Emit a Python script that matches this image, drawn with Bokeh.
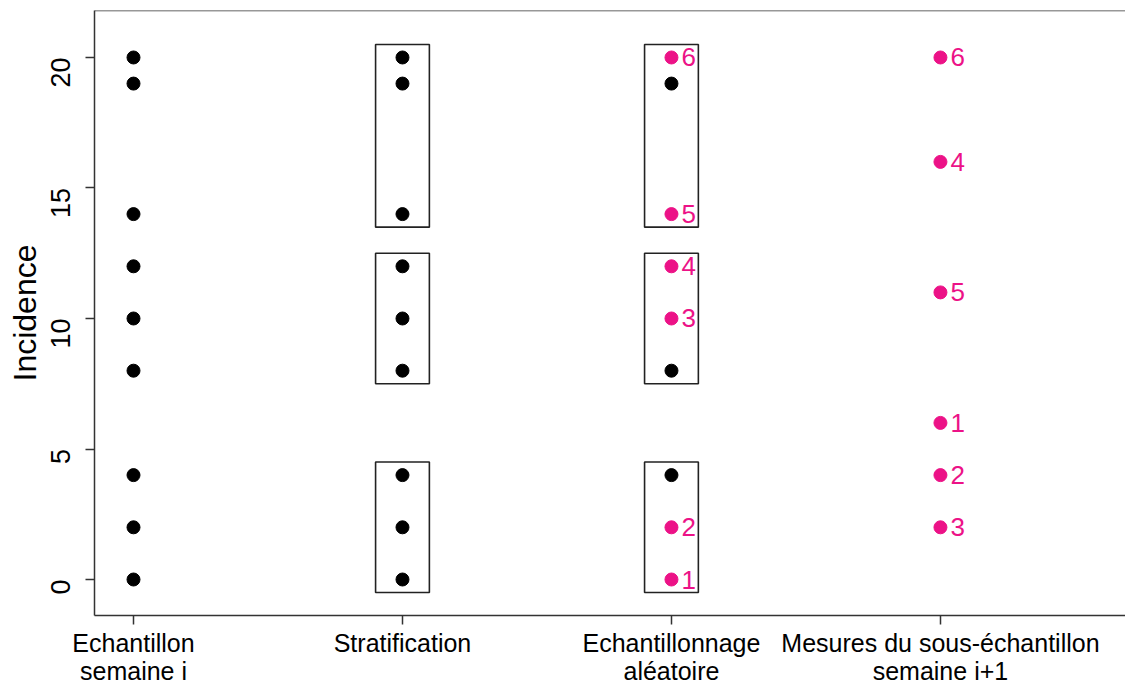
import math
from bokeh.plotting import figure
from bokeh.models import FixedTicker, Span, ColumnDataSource
from bokeh.core.properties import value
from bokeh.embed import file_html
from bokeh.resources import INLINE

# ---- data ----
col_labels = ["Echantillon\nsemaine i", "Stratification", "Echantillonnage\naléatoire",
              "Mesures du sous-échantillon\nsemaine i+1"]
col_pos = [1, 2, 3, 4]

sample_y = [0, 2, 4, 8, 10, 12, 14, 19, 20]          # column 1 and 2
strata_low = [-0.5, 7.5, 13.5]                          # strata boxes
strata_high = [4.5, 12.5, 20.5]

drawn_black_y = [4, 8, 19]                              # column 3, not drawn
drawn_pink_y = [0, 2, 10, 12, 14, 20]                   # column 3, drawn
drawn_pink_lab = ["1", "2", "3", "4", "5", "6"]

next_y = [6, 4, 2, 16, 11, 20]                          # column 4
next_lab = ["1", "2", "3", "4", "5", "6"]

y_ticks = [0, 5, 10, 15, 20]

PINK = "#EC1287"
FONT = "Liberation Sans"

p = figure(width=1125, height=688, output_backend="svg", toolbar_location=None,
           x_range=(0.855, 4.688), y_range=(-1.379, 21.8),
           min_border_left=94, min_border_top=10, min_border_right=0, min_border_bottom=73)
p.outline_line_color = None
p.xgrid.visible = False
p.ygrid.visible = False
p.background_fill_color = "white"

# boxes
for c in [2, 3]:
    p.quad(left=[c - 0.1] * 3, right=[c + 0.1] * 3, bottom=strata_low, top=strata_high,
           fill_color=None, line_color="#222222", line_width=1.6)

# column 1 & 2 points
p.scatter(x=[1] * len(sample_y), y=sample_y, size=13, color="black")
p.scatter(x=[2] * len(sample_y), y=sample_y, size=13, color="black")

# column 3
p.scatter(x=[3] * len(drawn_black_y), y=drawn_black_y, size=13, color="black")
src3 = ColumnDataSource(dict(x=[3] * len(drawn_pink_y), y=drawn_pink_y, t=drawn_pink_lab))
p.scatter(x="x", y="y", source=src3, size=13, color=PINK)
p.text(x="x", y="y", text="t", source=src3, x_offset=10, text_baseline="middle", text_align="left",
       text_font=value(FONT), text_font_size="26px", text_color=PINK)

# column 4
src4 = ColumnDataSource(dict(x=[4] * len(next_y), y=next_y, t=next_lab))
p.scatter(x="x", y="y", source=src4, size=13, color=PINK)
p.text(x="x", y="y", text="t", source=src4, x_offset=10, text_baseline="middle", text_align="left",
       text_font=value(FONT), text_font_size="26px", text_color=PINK)

# top border
p.add_layout(Span(location=21.8, dimension="width", line_color="#333333", line_width=1.5))

# axes
p.xaxis.ticker = FixedTicker(ticks=col_pos)
p.xaxis.major_label_overrides = {c: l for c, l in zip(col_pos, col_labels)}
p.yaxis.ticker = FixedTicker(ticks=y_ticks)
for ax in [p.xaxis[0], p.yaxis[0]]:
    ax.axis_line_color = "#333333"
    ax.axis_line_width = 1.5
    ax.major_tick_line_color = "#333333"
    ax.major_tick_line_width = 1.5
    ax.major_tick_out = 9
    ax.major_tick_in = 0
    ax.minor_tick_line_color = None
    ax.major_label_text_color = "black"
    ax.major_label_text_font = FONT

p.xaxis.major_label_text_font_size = "25px"
p.xaxis.major_label_standoff = 4
p.xaxis.major_label_text_line_height = 1.0

p.yaxis.major_label_text_font_size = "27px"
p.yaxis.major_label_orientation = math.pi / 2
p.yaxis.major_label_standoff = 25
p.yaxis.axis_label = "Incidence"
p.yaxis.axis_label_text_font = FONT
p.yaxis.axis_label_text_font_size = "32px"
p.yaxis.axis_label_text_font_style = "normal"
p.yaxis.axis_label_text_color = "black"
p.yaxis.axis_label_standoff = -4

open("out.html", "w").write(file_html(p, INLINE))
